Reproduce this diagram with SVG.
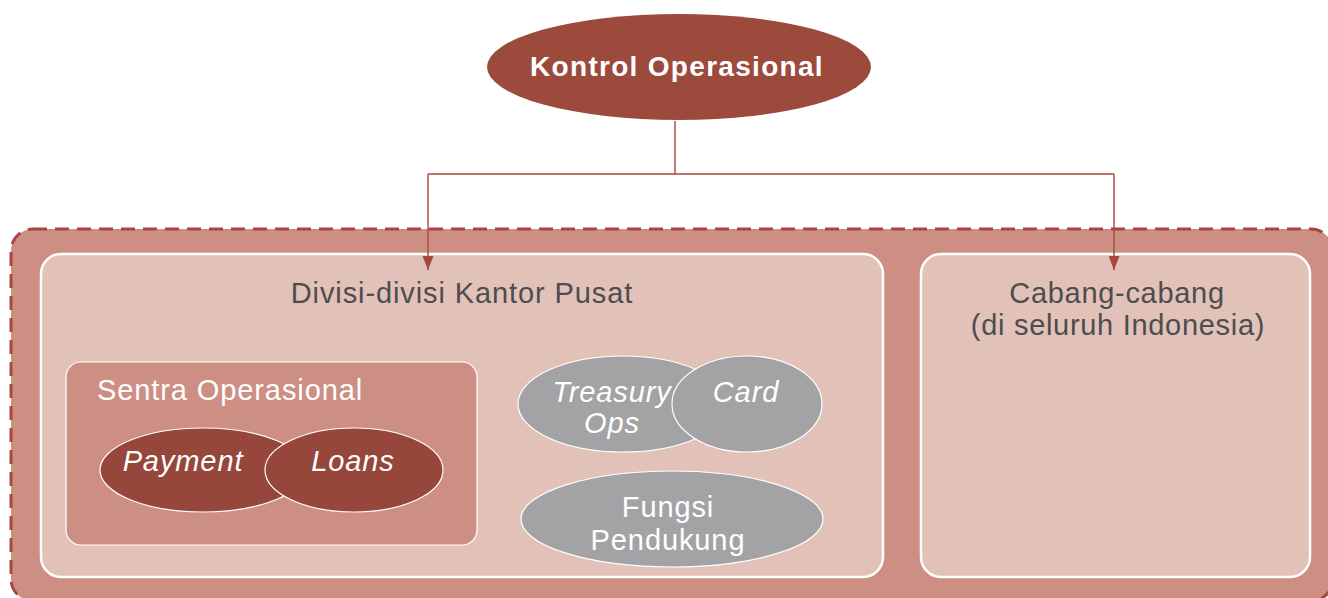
<svg xmlns="http://www.w3.org/2000/svg" width="1328" height="598" viewBox="0 0 1328 598">
<defs>
<style>
text{font-family:"Liberation Sans",Arial,sans-serif;font-size:29px;letter-spacing:0.9px;text-anchor:middle}
.w{fill:#ffffff}
.d{fill:#4d4d4f}
.i{font-style:italic}
.box{fill:#e2c1b8;stroke:#ffffff;stroke-width:2.5}
.dark{fill:#96463b;stroke:#ffffff;stroke-width:1.2}
.grey{fill:#a3a3a6;stroke:#ffffff;stroke-width:1.2}
.con{fill:none;stroke:#a6483d;stroke-width:1.4}
</style>
<marker id="arr" viewBox="0 0 11 14" refX="5.5" refY="14" markerWidth="11" markerHeight="14" markerUnits="userSpaceOnUse" orient="0">
<path d="M0,0 L11,0 L5.5,14 Z" fill="#a6483d"/>
</marker>
</defs>
<g id="outer">
<rect x="11" y="229" width="1322" height="372" rx="22" fill="#cd8f83" stroke="#a8473d" stroke-width="3" stroke-dasharray="14,8"/>
</g>
<g id="kontrol">
<ellipse cx="679" cy="67" rx="192" ry="53" fill="#9c4a3c"/>
<text x="677" y="76" class="w" style="font-weight:bold;font-size:28px;letter-spacing:1.3px">Kontrol Operasional</text>
</g>
<g id="divisi">
<rect class="box" x="41" y="254" width="842" height="323" rx="20"/>
<text x="462" y="303" class="d">Divisi-divisi Kantor Pusat</text>
</g>
<g id="cabang">
<rect class="box" x="921" y="254" width="389" height="323" rx="20"/>
<text x="1117" y="303" class="d" style="letter-spacing:0.7px">Cabang-cabang</text>
<text x="1118" y="335" class="d" style="letter-spacing:0.7px">(di seluruh Indonesia)</text>
</g>
<g id="sentra">
<rect x="66" y="362" width="411" height="183" rx="15" fill="#cd8f83" stroke="#ffffff" stroke-width="1.2"/>
<text x="97" y="400" class="w" style="text-anchor:start">Sentra Operasional</text>
</g>
<g id="payment">
<ellipse class="dark" cx="203" cy="470" rx="103" ry="42"/>
<text x="183" y="471" class="w i">Payment</text>
</g>
<g id="loans">
<ellipse class="dark" cx="354" cy="470" rx="89" ry="42"/>
<text x="353" y="471" class="w i">Loans</text>
</g>
<g id="treasury">
<ellipse class="grey" cx="623" cy="404" rx="105" ry="48"/>
<text class="w i"><tspan x="612" y="402">Treasury</tspan><tspan x="612" y="433">Ops</tspan></text>
</g>
<g id="card">
<ellipse class="grey" cx="747" cy="404" rx="75" ry="48"/>
<text x="746" y="402" class="w i">Card</text>
</g>
<g id="fungsi">
<ellipse class="grey" cx="672" cy="519" rx="151" ry="48"/>
<text class="w"><tspan x="668" y="517">Fungsi</tspan><tspan x="668" y="550">Pendukung</tspan></text>
</g>
<g id="connectors">
<path class="con" d="M675,121 V174 M428,174 H1114"/>
<path class="con" d="M428,174 V270" marker-end="url(#arr)"/>
<path class="con" d="M1114,174 V270" marker-end="url(#arr)"/>
</g>
</svg>
